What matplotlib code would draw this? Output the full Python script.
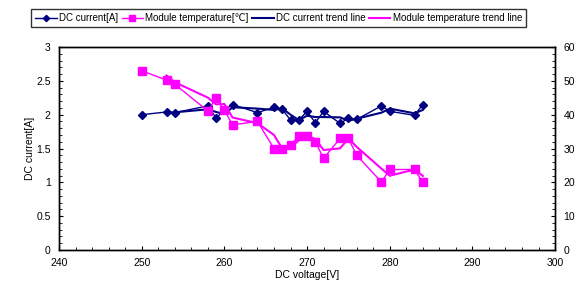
import numpy as np
import pandas as pd
import matplotlib
matplotlib.use("Agg")
from matplotlib import pyplot as plt
from matplotlib.ticker import MultipleLocator, FormatStrFormatter

plt.rcParams['font.family'] = ['Liberation Sans', 'DejaVu Sans']

# %% data
voltage = [250, 253, 254, 258, 259, 260, 261, 264, 266, 267, 268,
           269, 270, 271, 272, 274, 275, 276, 279, 280, 283, 284]
current = [2.00, 2.04, 2.03, 2.13, 1.95, 2.07, 2.15, 2.03, 2.11, 2.08, 1.92,
           1.92, 2.05, 1.88, 2.05, 1.87, 1.95, 1.93, 2.13, 2.05, 1.99, 2.15]
temperature = [53.0, 50.2, 49.0, 41.1, 45.0, 41.3, 37.0, 38.0, 30.0, 30.0, 31.0,
               33.7, 33.7, 32.0, 27.1, 33.0, 33.0, 28.0, 20.1, 23.8, 23.8, 20.0]

df = pd.DataFrame({'v': voltage, 'i': current, 't': temperature})
# Excel style 2-period moving average trend lines
df['i_trend'] = df['i'].rolling(2).mean()
df['t_trend'] = df['t'].rolling(2).mean()

navy = '#000080'
pink = '#FF00FF'

# %%
fig = plt.figure(figsize=(5.77, 2.85), dpi=100)
ax = fig.add_axes([0.1023, 0.1228, 0.8597, 0.7122])
ax2 = ax.twinx()

l1, = ax.plot(df['v'], df['i'], color=navy, lw=1, marker='D', ms=4,
              label='DC current[A]')
l2, = ax2.plot(df['v'], df['t'], color=pink, lw=1, marker='s', ms=5.5,
               label='Module temperature[℃]')
l3, = ax.plot(df['v'], df['i_trend'], color=navy, lw=1.5,
              label='DC current trend line')
l4, = ax2.plot(df['v'], df['t_trend'], color=pink, lw=1.5,
               label='Module temperature trend line')

ax.set_xlim(240, 300)
ax.set_ylim(0, 3)
ax2.set_ylim(0, 60)
ax.xaxis.set_major_locator(MultipleLocator(10))
ax.xaxis.set_minor_locator(MultipleLocator(2))
ax.yaxis.set_major_locator(MultipleLocator(0.5))
ax.yaxis.set_minor_locator(MultipleLocator(0.1))
ax.yaxis.set_major_formatter(FormatStrFormatter('%g'))
ax2.yaxis.set_major_locator(MultipleLocator(10))
ax2.yaxis.set_minor_locator(MultipleLocator(2))

for a in (ax, ax2):
    a.tick_params(which='both', direction='in', labelsize=7.5, pad=6)
    a.tick_params(which='major', length=3)
    a.tick_params(which='minor', length=2)
    for s in a.spines.values():
        s.set_linewidth(1)

ax.set_xlabel('DC voltage[V]', fontsize=7.5, labelpad=1)
ax.set_ylabel('DC current[A]', fontsize=7.5, labelpad=1)
# the reference shows this label cut off at the right edge
ax2.set_ylabel('Module temperature[℃]', fontsize=7.5, labelpad=9)

fig.legend(handles=[l1, l2, l3, l4], loc='center',
           bbox_to_anchor=(0.483, 0.937), ncol=4, fontsize=7,
           frameon=True, fancybox=False, edgecolor='black',
           handlelength=2.2, handletextpad=0.25, columnspacing=0.35,
           borderpad=0.4, borderaxespad=0, markerscale=0.8)

fig.savefig('out.png', dpi=100)
